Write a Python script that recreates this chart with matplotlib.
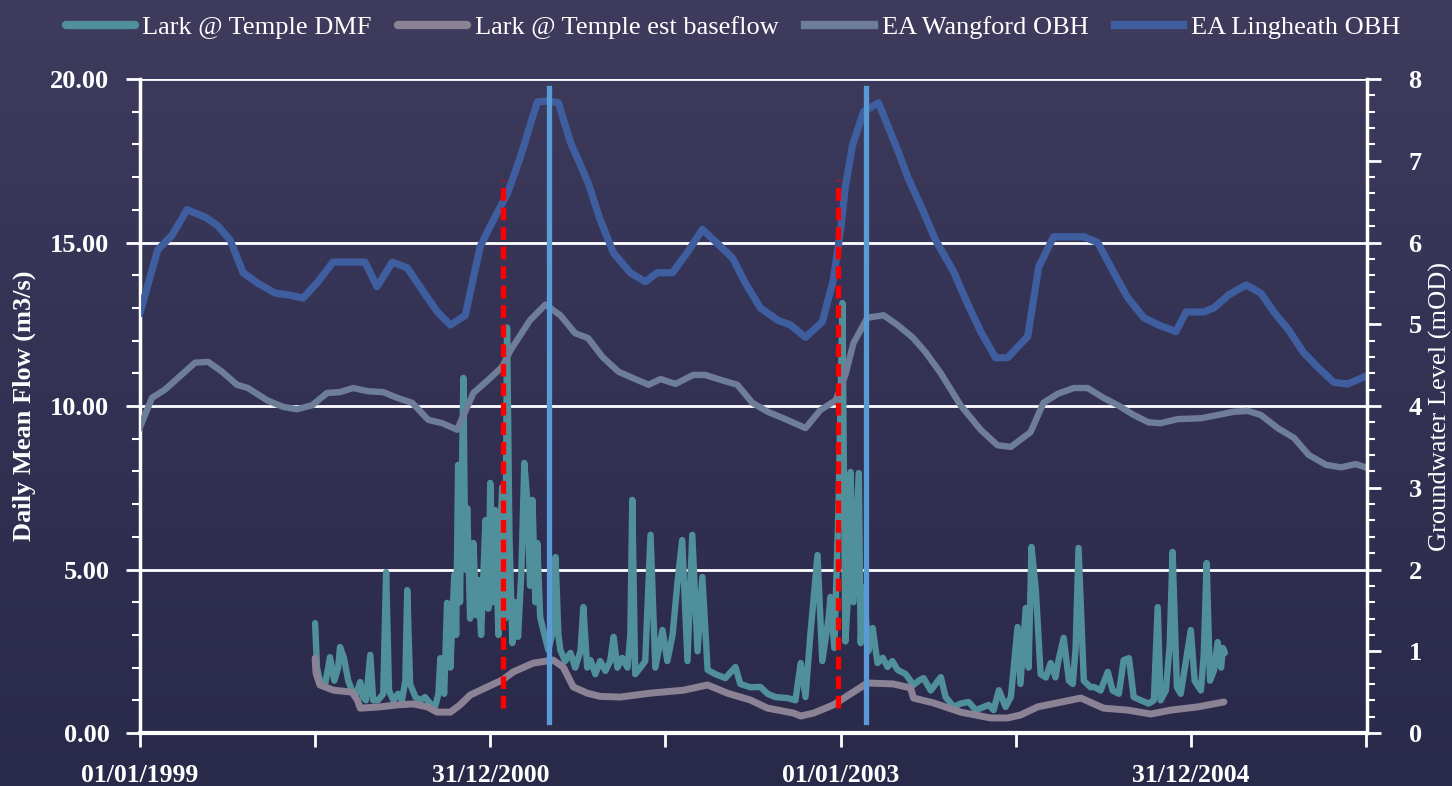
import numpy as np
import matplotlib
matplotlib.use("Agg")
import matplotlib.pyplot as plt
from matplotlib.colors import LinearSegmentedColormap

plt.rcParams['font.family'] = ['Liberation Serif', 'DejaVu Serif']

# x values are days counted from 01/01/1999
dmf_day = [365, 369, 375, 386, 396, 405, 413, 417, 425, 434, 442, 451, 459, 465, 471, 480, 486, 496,
           507, 513, 519, 528, 538, 546, 553, 557, 563, 574, 584, 594, 605, 615, 622, 626, 634, 640,
           647, 655, 659, 663, 667, 674, 678, 682, 688, 695, 701, 705, 711, 720, 726, 730, 736, 740,
           747, 751, 755, 761, 765, 770, 776, 782, 788, 795, 801, 807, 813, 818, 824, 828, 834, 843,
           851, 859, 866, 872, 876, 886, 897, 907, 918, 924, 932, 939, 949, 959, 970, 980, 987, 995,
           1005, 1016, 1022, 1026, 1032, 1043, 1053, 1064, 1074, 1089, 1099, 1110, 1120, 1130, 1141,
           1151, 1162, 1172, 1183, 1199, 1220, 1241, 1251, 1272, 1293, 1308, 1324, 1349, 1366, 1377,
           1387, 1397, 1412, 1422, 1435, 1439, 1447, 1456, 1464, 1470, 1477, 1481, 1487, 1498, 1502,
           1508, 1518, 1527, 1537, 1548, 1558, 1568, 1579, 1596, 1612, 1623, 1633, 1648, 1669, 1679,
           1696, 1710, 1727, 1742, 1769, 1779, 1790, 1804, 1815, 1829, 1835, 1846, 1852, 1858, 1867,
           1877, 1888, 1898, 1908, 1913, 1925, 1936, 1944, 1950, 1956, 1967, 1981, 1988, 2002, 2017,
           2027, 2040, 2050, 2061, 2071, 2086, 2102, 2113, 2121, 2127, 2138, 2146, 2152, 2161, 2169,
           2180, 2190, 2198, 2211, 2217, 2223, 2230, 2238, 2246, 2253, 2257, 2261]
dmf_flow = [3.36, 2.0, 1.6, 1.5, 2.32, 1.6, 2.0, 2.63, 2.3, 1.6, 1.3, 1.2, 1.56, 1.1, 1.0, 2.39, 1.0, 1.0,
            1.2, 4.92, 1.3, 1.0, 1.2, 1.0, 1.6, 4.37, 1.5, 1.1, 1.0, 1.10, 0.9, 0.8, 1.2, 2.29, 1.2, 3.98,
            2.0, 4.83, 3.0, 8.20, 4.0, 10.86, 5.0, 6.88, 3.5, 5.81, 3.6, 4.68, 3.0, 6.51, 3.8, 7.65, 4.0, 6.82,
            3.0, 6.12, 7.52, 3.5, 12.4, 6.0, 2.75, 4.0, 2.94, 5.0, 8.26, 7.13, 4.5, 7.13, 4.0, 5.81, 3.55, 3.0,
            2.54, 3.0, 5.38, 3.0, 2.54, 2.2, 2.45, 2.0, 2.5, 3.85, 2.0, 2.23, 1.8, 2.2, 1.9, 2.2, 2.94, 2.0,
            2.3, 2.0, 3.0, 7.13, 1.8, 2.0, 2.2, 6.06, 2.0, 3.15, 2.2, 3.0, 4.59, 5.9, 2.2,
            6.06, 2.5, 4.77, 1.93, 1.8, 1.68, 2.02, 1.5, 1.4, 1.41, 1.2, 1.1, 1.07, 1.0, 2.14,
            1.1, 3.0, 5.44, 2.2, 3.5, 4.16, 2.6, 7.0, 13.15, 2.8, 4.5, 7.98, 4.0, 7.95, 2.75,
            4.46, 2.5, 3.21, 2.14, 2.3, 2.02, 2.2, 1.93, 1.8, 1.47, 1.6, 1.68, 1.3, 1.71, 1.1,
            0.8, 0.9, 0.95, 0.7, 0.86, 0.7, 1.31, 0.8, 1.1, 3.24, 1.5, 3.82, 2.0, 5.69, 4.37,
            1.8, 1.7, 2.14, 1.7, 2.14, 2.91, 1.6, 1.5, 2.6, 5.66, 1.6, 1.4, 1.41, 1.3, 1.87,
            1.3, 1.2, 2.23, 2.29, 1.1, 1.0, 0.9, 1.0, 3.85, 1.0, 1.3, 2.7, 5.54, 1.4, 1.2,
            2.23, 3.15, 1.6, 1.3, 2.4, 5.20, 1.6, 1.9, 2.78, 2.0, 2.6, 2.45]

base_day = [365, 367, 375, 403, 442, 453, 459, 501, 536, 569, 599, 619, 647, 667, 688, 724, 755, 778,
            820, 861, 882, 903, 932, 959, 1001, 1064, 1133, 1183, 1224, 1272, 1308, 1362, 1377, 1404,
            1445, 1481, 1516, 1570, 1606, 1612, 1654, 1710, 1773, 1808, 1835, 1871, 1961, 2008, 2059,
            2107, 2148, 2205, 2259]
base_flow = [2.29, 1.83, 1.47, 1.31, 1.25, 1.01, 0.76, 0.80, 0.86, 0.89, 0.80, 0.64, 0.64, 0.86, 1.16, 1.41,
             1.62, 1.87, 2.14, 2.23, 2.02, 1.41, 1.22, 1.12, 1.10, 1.22, 1.31, 1.47, 1.22, 1.01, 0.76, 0.61,
             0.52, 0.61, 0.86, 1.20, 1.53, 1.50, 1.38, 1.07, 0.92, 0.64, 0.46, 0.46, 0.55, 0.80, 1.07, 0.76,
             0.70, 0.58, 0.70, 0.80, 0.95]

wang_day = [0, 25, 52, 90, 115, 142, 171, 202, 225, 265, 298, 327, 359, 390, 417, 444, 476, 507, 536,
            567, 601, 630, 661, 695, 726, 755, 772, 813, 845, 876, 907, 934, 964, 997, 1028, 1060, 1085,
            1116, 1153, 1178, 1210, 1245, 1276, 1308, 1341, 1387, 1418, 1450, 1470, 1487, 1516, 1550,
            1579, 1610, 1637, 1669, 1710, 1752, 1787, 1815, 1856, 1883, 1913, 1946, 1975, 2008, 2038,
            2071, 2102, 2127, 2163, 2211, 2246, 2280, 2309, 2336, 2371, 2405, 2436, 2472, 2503, 2534, 2559]
wang_level = [3.74, 4.10, 4.20, 4.40, 4.53, 4.54, 4.42, 4.26, 4.22, 4.07, 3.99, 3.96, 4.01, 4.16, 4.17, 4.22,
              4.18, 4.17, 4.10, 4.04, 3.83, 3.79, 3.71, 4.16, 4.32, 4.48, 4.68, 5.05, 5.24, 5.11, 4.89, 4.83,
              4.60, 4.42, 4.34, 4.26, 4.33, 4.27, 4.38, 4.38, 4.32, 4.26, 4.04, 3.93, 3.85, 3.73, 3.95, 4.07,
              4.38, 4.77, 5.08, 5.11, 4.99, 4.84, 4.66, 4.40, 4.01, 3.71, 3.52, 3.50, 3.68, 4.04, 4.15, 4.22,
              4.22, 4.10, 4.01, 3.89, 3.80, 3.79, 3.84, 3.85, 3.89, 3.93, 3.94, 3.89, 3.73, 3.61, 3.40, 3.28,
              3.25, 3.29, 3.24]

ling_day = [0, 37, 67, 98, 136, 161, 188, 215, 246, 282, 309, 340, 371, 402, 438, 469, 494, 526, 557,
            588, 620, 647, 678, 709, 736, 766, 793, 828, 849, 872, 897, 934, 959, 987, 1022, 1053, 1078,
            1110, 1141, 1172, 1203, 1235, 1262, 1293, 1329, 1356, 1387, 1422, 1445, 1460, 1470, 1485,
            1508, 1539, 1579, 1600, 1631, 1658, 1696, 1721, 1752, 1783, 1808, 1850, 1873, 1904, 1967,
            1996, 2027, 2059, 2092, 2123, 2159, 2180, 2217, 2238, 2269, 2305, 2336, 2363, 2394, 2424,
            2457, 2488, 2517, 2561]
ling_level = [5.14, 5.91, 6.09, 6.40, 6.31, 6.21, 6.03, 5.63, 5.50, 5.38, 5.36, 5.32, 5.52, 5.76, 5.76, 5.76,
              5.46, 5.76, 5.69, 5.42, 5.15, 4.99, 5.11, 5.95, 6.27, 6.60, 7.05, 7.72, 7.73, 7.71, 7.23, 6.73,
              6.28, 5.87, 5.63, 5.52, 5.63, 5.63, 5.88, 6.16, 5.99, 5.81, 5.50, 5.20, 5.05, 4.99, 4.84, 5.03,
              5.54, 6.15, 6.68, 7.19, 7.60, 7.71, 7.13, 6.80, 6.40, 6.03, 5.64, 5.30, 4.91, 4.59, 4.59, 4.85,
              5.70, 6.07, 6.07, 6.00, 5.66, 5.32, 5.08, 4.99, 4.91, 5.15, 5.15, 5.20, 5.36, 5.48, 5.38, 5.15,
              4.93, 4.66, 4.46, 4.29, 4.27, 4.38]

# marker lines (groundwater-axis units)
event_day = [757, 1454]
event_range = [0.31, 6.76]
peak_day = [853, 1514]
peak_range = [0.13, 7.89]

xtick_days = [0, 365, 730, 1095, 1460, 1825, 2190, 2555]
xtick_labels = ["01/01/1999", "", "31/12/2000", "", "01/01/2003", "", "31/12/2004", ""]
ytick_left = [0, 5, 10, 15, 20]
ytick_right = [0, 1, 2, 3, 4, 5, 6, 7, 8]

fig = plt.figure(figsize=(14.52, 7.86), dpi=100)

# gradient background
bg = fig.add_axes([0, 0, 1, 1], zorder=-10)
grad = np.linspace(0, 1, 256).reshape(-1, 1)
cmap = LinearSegmentedColormap.from_list("bg", ["#3e3b5d", "#29294a"])
bg.imshow(grad, aspect="auto", cmap=cmap, extent=[0, 1, 0, 1])
bg.axis("off")

ax = fig.add_axes([0.0964, 0.0674, 0.845, 0.8321])
ax.set_facecolor("none")
ax2 = ax.twinx()

l1, = ax.plot(dmf_day, dmf_flow, color="#50909a", lw=4.6, solid_joinstyle="round",
              solid_capstyle="round", label="Lark @ Temple DMF")
l2, = ax.plot(base_day, base_flow, color="#8c8296", lw=5.0, solid_joinstyle="round",
              solid_capstyle="round", label="Lark @ Temple est baseflow")
l3, = ax2.plot(wang_day, wang_level, color="#6f7e98", lw=4.6, solid_joinstyle="round",
               label="EA Wangford OBH")
l4, = ax2.plot(ling_day, ling_level, color="#3f5ea0", lw=5.2, solid_joinstyle="round",
               label="EA Lingheath OBH")

for d in event_day:
    ax2.plot([d, d], event_range, color="#ff0000", lw=3.8, dashes=(2.4, 1.3))
for d in peak_day:
    ax2.plot([d, d], peak_range, color="#5b9bd5", lw=3.8)

ax.set_xlim(0, 2557)
ax.set_ylim(0, 20)
ax2.set_ylim(0, 8)

ax.set_xticks(xtick_days)
ax.set_xticklabels(xtick_labels)
ax.set_yticks(ytick_left)
ax.set_yticklabels([f"{v:.2f}" for v in ytick_left])
ax.set_yticks(np.arange(0, 21, 1), minor=True)
ax2.set_yticks(ytick_right)
ax2.set_yticks(np.arange(0, 8.01, 0.2), minor=True)

for y in ytick_left[1:]:
    ax.axhline(y, color="white", lw=2.0, zorder=0.5)

for a in (ax, ax2):
    for s in a.spines.values():
        s.set_color("white")
    a.spines["top"].set_visible(False)
ax.spines["left"].set_linewidth(2.5)
ax.spines["bottom"].set_linewidth(3.0)
ax2.spines["right"].set_linewidth(2.5)

ax.tick_params(axis="x", colors="white", length=10, width=2, pad=12, labelsize=18.5)
ax.tick_params(axis="y", which="major", colors="white", length=10, width=2, pad=12, labelsize=19)
ax.tick_params(axis="y", which="minor", colors="white", length=6, width=1.5)
ax2.tick_params(axis="y", which="major", colors="white", length=10, width=2, pad=20, labelsize=19)
ax2.tick_params(axis="y", which="minor", colors="white", length=6, width=1.5)
for lab in ax.get_xticklabels() + ax.get_yticklabels() + ax2.get_yticklabels():
    lab.set_fontweight("bold")

ax.set_ylabel("Daily Mean Flow (m3/s)", color="white", fontsize=19, fontweight="bold", labelpad=10)
ax2.set_ylabel("Groundwater Level (mOD)", color="white", fontsize=19, labelpad=5)

leg = fig.legend([l1, l2, l3, l4], [l.get_label() for l in (l1, l2, l3, l4)],
                 loc="upper center", bbox_to_anchor=(0.505, 1.01), ncol=4, frameon=False,
                 fontsize=19, handlelength=2.6, columnspacing=1.0, handletextpad=0.3)
for t in leg.get_texts():
    t.set_color("white")
for h in leg.legend_handles:
    h.set_linewidth(6)

fig.savefig("out.png", dpi=100)
